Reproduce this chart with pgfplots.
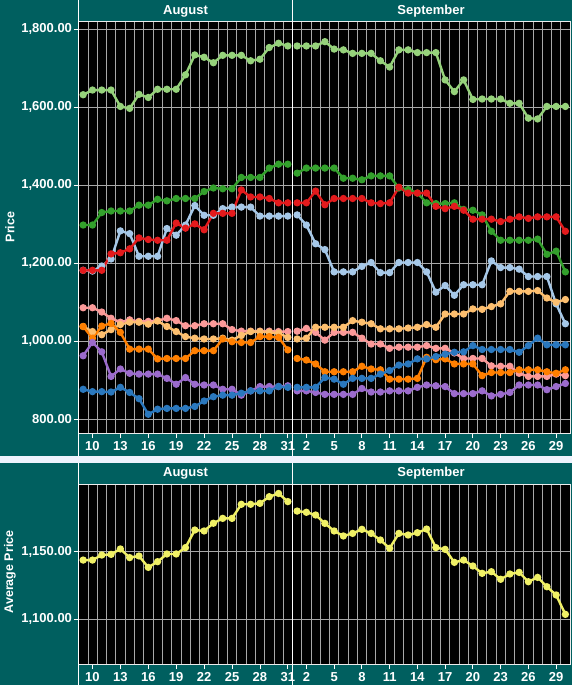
\documentclass[border=0pt]{standalone}
\usepackage{fontspec}
\setmainfont{Liberation Sans}
\usepackage{pgfplots}
\usepackage{pgfplotstable}
\pgfplotsset{compat=1.18}
\definecolor{bgteal}{HTML}{005F5F}
\definecolor{stripc}{HTML}{EEF3FD}
\definecolor{cLG}{HTML}{96D27B}
\definecolor{cDG}{HTML}{33A02C}
\definecolor{cRD}{HTML}{E31A1C}
\definecolor{cLB}{HTML}{A6C8E8}
\definecolor{cPK}{HTML}{FB9A99}
\definecolor{cLO}{HTML}{FDBF6F}
\definecolor{cDO}{HTML}{FF7F00}
\definecolor{cPU}{HTML}{9B6BCC}
\definecolor{cBL}{HTML}{2A78BE}
\definecolor{cYL}{HTML}{F0F066}
\definecolor{gridc}{HTML}{A8A8A8}

\pgfplotstableread{
d lg dg rd lb pk lo do pu bl
9 1632 1298 1182 1182 1086 1038 1038 963 877
10 1644 1298 1182 1180 1086 1025 1008 997 871
11 1644 1330 1182 1193 1075 1017 1039 973 871
12 1644 1334 1224 1211 1059 1030 1046 910 870
13 1602 1334 1227 1283 1049 1043 1023 929 882
14 1597 1334 1237 1276 1055 1049 980 918 869
15 1633 1349 1265 1218 1051 1049 980 916 853
16 1625 1349 1261 1218 1051 1044 980 916 813
17 1646 1364 1259 1218 1053 1052 955 916 826
18 1646 1360 1259 1289 1059 1038 956 905 828
19 1646 1366 1303 1272 1053 1025 956 890 828
20 1683 1366 1290 1298 1040 1012 956 907 828
21 1734 1366 1301 1348 1040 1008 976 890 833
22 1728 1384 1286 1323 1045 1006 976 888 847
23 1714 1393 1328 1323 1045 1006 976 888 858
24 1733 1391 1328 1340 1045 1008 1006 877 862
25 1733 1391 1328 1344 1030 1003 999 877 862
26 1733 1420 1388 1344 1026 1015 997 862 867
27 1719 1420 1370 1344 1026 1025 997 873 873
28 1723 1420 1370 1321 1026 1025 1012 884 873
29 1753 1444 1366 1321 1026 1023 1012 884 873
30 1764 1454 1355 1321 1025 1021 1010 884 884
31 1757 1454 1355 1321 1025 1010 978 886 882
}\aug

\pgfplotstableread{
d lg dg rd lb pk lo do pu bl
1 1757 1431 1355 1324 1026 1006 956 873 882
2 1757 1444 1355 1298 1033 1008 952 873 882
3 1757 1444 1385 1250 1023 1036 942 869 882
4 1768 1444 1350 1235 1003 1036 922 864 907
5 1749 1444 1366 1178 1023 1036 922 864 903
6 1747 1418 1366 1178 1023 1036 922 864 890
7 1738 1418 1366 1178 1023 1053 922 864 905
8 1738 1414 1366 1192 1008 1049 936 879 905
9 1738 1424 1355 1202 993 1045 929 870 905
10 1719 1424 1353 1176 993 1032 927 870 916
11 1703 1424 1355 1176 982 1032 903 873 925
12 1747 1393 1395 1202 985 1032 903 873 939
13 1747 1389 1380 1202 985 1034 903 873 942
14 1740 1380 1380 1202 985 1036 905 882 955
15 1740 1355 1380 1178 989 1043 959 888 955
16 1740 1353 1346 1126 982 1036 953 886 961
17 1670 1353 1340 1143 982 1070 955 884 967
18 1640 1355 1346 1118 970 1070 942 866 972
19 1670 1338 1336 1145 956 1070 942 866 973
20 1620 1336 1313 1145 956 1083 942 866 989
21 1621 1324 1313 1145 956 1082 912 873 979
22 1621 1282 1313 1206 937 1089 920 860 979
23 1621 1259 1307 1189 936 1096 920 864 979
24 1610 1259 1313 1189 936 1128 920 869 979
25 1610 1259 1319 1185 918 1128 927 888 972
26 1572 1259 1315 1166 910 1128 927 888 989
27 1570 1262 1319 1166 910 1130 927 888 1008
28 1602 1223 1319 1166 910 1111 922 876 991
29 1602 1231 1319 1096 916 1100 918 884 991
30 1602 1178 1282 1045 912 1107 927 892 991
}\sep

\pgfplotstableread{
d avg
9 1143.8
10 1143.8
11 1147.5
12 1148.0
13 1152.0
14 1145.6
15 1146.8
16 1138.4
17 1142.6
18 1148.3
19 1148.3
20 1153.0
21 1166.0
22 1165.3
23 1171.0
24 1174.6
25 1174.6
26 1185.0
27 1185.0
28 1185.7
29 1190.6
30 1193.0
31 1187.0
}\augavg

\pgfplotstableread{
d avg
1 1180.0
2 1179.1
3 1177.1
4 1170.9
5 1165.3
6 1161.6
7 1163.5
8 1166.5
9 1163.5
10 1158.6
11 1152.5
12 1163.5
13 1162.3
14 1164.0
15 1166.7
16 1153.0
17 1151.7
18 1142.1
19 1143.8
20 1139.4
21 1134.0
22 1135.2
23 1129.6
24 1133.5
25 1134.7
26 1127.8
27 1131.0
28 1124.1
29 1118.0
30 1103.7
}\sepavg

\pgfplotsset{
  ser/.style={color=#1, line width=2.4pt, mark=*, mark size=2.4pt, mark options={solid}},
  base/.style={
    scale only axis,
    axis background/.style={fill=black},
    axis line style={draw=white!85!gray, line width=0.8pt},
    ymajorgrids, xminorgrids,
    grid style={draw=gridc, line width=0.6pt},
    minor grid style={draw=gridc, line width=0.6pt},
    tick align=outside, tick pos=left,
    major tick length=5pt, minor tick length=0pt,
    tick style={draw=white, line width=0.8pt},
    ticklabel style={font=\fontsize{13}{15}\selectfont\bfseries, text=white},
    /pgf/number format/assume math mode=true,
    yticklabel style={xshift=2pt, /pgf/number format/.cd, fixed, fixed zerofill, precision=2, 1000 sep={,}},
    clip=true,
  },
  augx/.style={xmin=8.5, xmax=31.5, xtick={10,13,...,31}, minor xtick={9.5,10.5,...,30.5}, width=214pt},
  sepx/.style={xmin=0.5, xmax=30.5, xtick={2,5,...,29}, minor xtick={1.5,2.5,...,29.5}, width=277.5pt, yticklabels={}, ytick style={draw=none}},
}

\begin{document}
\begin{tikzpicture}
\fill[bgteal] (0pt,0pt) rectangle (572pt,685pt);
\useasboundingbox (0pt,0pt) rectangle (572pt,685pt);
\fill[stripc] (0pt,222pt) rectangle (572pt,229pt);

% ---- top row: Price
\begin{axis}[base, augx, at={(78.5pt,252pt)}, anchor=south west, height=412pt,
  ymin=765, ymax=1821, ytick={800,1000,...,1800}]
\addplot[ser=cLG] table[x=d,y=lg]{\aug};
\addplot[ser=cDG] table[x=d,y=dg]{\aug};
\addplot[ser=cLB] table[x=d,y=lb]{\aug};
\addplot[ser=cRD] table[x=d,y=rd]{\aug};
\addplot[ser=cPK] table[x=d,y=pk]{\aug};
\addplot[ser=cLO] table[x=d,y=lo]{\aug};
\addplot[ser=cDO] table[x=d,y=do]{\aug};
\addplot[ser=cPU] table[x=d,y=pu]{\aug};
\addplot[ser=cBL] table[x=d,y=bl]{\aug};
\end{axis}

\begin{axis}[base, sepx, at={(292.5pt,252pt)}, anchor=south west, height=412pt,
  ymin=765, ymax=1821, ytick={800,1000,...,1800}]
\addplot[ser=cLG] table[x=d,y=lg]{\sep};
\addplot[ser=cDG] table[x=d,y=dg]{\sep};
\addplot[ser=cLB] table[x=d,y=lb]{\sep};
\addplot[ser=cRD] table[x=d,y=rd]{\sep};
\addplot[ser=cPK] table[x=d,y=pk]{\sep};
\addplot[ser=cLO] table[x=d,y=lo]{\sep};
\addplot[ser=cDO] table[x=d,y=do]{\sep};
\addplot[ser=cPU] table[x=d,y=pu]{\sep};
\addplot[ser=cBL] table[x=d,y=bl]{\sep};
\end{axis}

% ---- bottom row: Average Price
\begin{axis}[base, augx, at={(78.5pt,21pt)}, anchor=south west, height=180pt,
  ymin=1067, ymax=1200, ytick={1100,1150}]
\addplot[ser=cYL] table[x=d,y=avg]{\augavg};
\end{axis}

\begin{axis}[base, sepx, at={(292.5pt,21pt)}, anchor=south west, height=180pt,
  ymin=1067, ymax=1200, ytick={1100,1150}]
\addplot[ser=cYL] table[x=d,y=avg]{\sepavg};
\end{axis}

% ---- frame lines and headers
\draw[white, line width=1pt] (78.5pt,229pt) -- (78.5pt,685pt) (292.5pt,229pt) -- (292.5pt,685pt)
  (78.5pt,0pt) -- (78.5pt,222pt) (292.5pt,0pt) -- (292.5pt,222pt);
\node[text=white, font=\fontsize{13}{15}\selectfont\bfseries] at (185.5pt,674pt) {August};
\node[text=white, font=\fontsize{13}{15}\selectfont\bfseries] at (431pt,674pt) {September};
\node[text=white, font=\fontsize{13}{15}\selectfont\bfseries] at (185.5pt,212pt) {August};
\node[text=white, font=\fontsize{13}{15}\selectfont\bfseries] at (431pt,212pt) {September};
\node[text=white, font=\fontsize{12.5}{14}\selectfont\bfseries, rotate=90] at (10pt,458pt) {Price};
\node[text=white, font=\fontsize{12.5}{14}\selectfont\bfseries, rotate=90] at (10pt,113pt) {Average Price};
\end{tikzpicture}
\end{document}
